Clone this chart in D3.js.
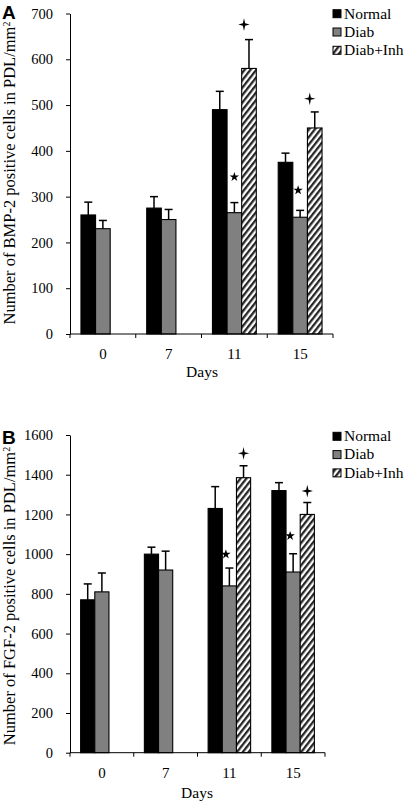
<!DOCTYPE html>
<html><head><meta charset="utf-8">
<script src="https://cdn.jsdelivr.net/npm/d3@7"></script>
<style>body{margin:0;background:#fff}svg{display:block}</style>
</head><body><svg id="c" width="408" height="804"></svg>
<script>
// ---------- data ----------
const days = ["0", "7", "11", "15"];
const seriesNames = ["Normal", "Diab", "Diab+Inh"];

// Panel A: BMP-2
const bmpNormal    = [260, 275, 490, 375];
const bmpNormalErr = [28, 25, 40, 20];
const bmpDiab      = [230, 250, 265, 255];
const bmpDiabErr   = [18, 22, 22, 15];
const bmpInh       = [null, null, 580, 450];
const bmpInhErr    = [null, null, 63, 35];
const bmpStar      = [null, null, 343, 314];
const bmpCross     = [null, null, 676, 514];
const bmpTicks     = [0, 100, 200, 300, 400, 500, 600, 700];

// Panel B: FGF-2
const fgfNormal    = [770, 1000, 1230, 1320];
const fgfNormalErr = [80, 35, 110, 40];
const fgfDiab      = [810, 920, 840, 910];
const fgfDiabErr   = [95, 95, 90, 92];
const fgfInh       = [null, null, 1385, 1200];
const fgfInhErr    = [null, null, 60, 60];
const fgfStar      = [null, null, 999, 1092];
const fgfCross     = [null, null, 1508, 1318];
const fgfTicks     = [0, 200, 400, 600, 800, 1000, 1200, 1400, 1600];

// ---------- drawing ----------
const svg = d3.select("#c");
const defs = svg.append("defs");
const pat = defs.append("pattern").attr("id", "hatch")
  .attr("patternUnits", "userSpaceOnUse").attr("width", 4.6).attr("height", 10)
  .attr("patternTransform", "rotate(38)");
pat.append("rect").attr("width", 4.6).attr("height", 10).attr("fill", "#fff");
pat.append("rect").attr("width", 2.3).attr("height", 10).attr("fill", "#262626");

const serif = "'Liberation Serif','Times New Roman',serif";
const fills = ["#000", "#808080", "url(#hatch)"];

const crossType = {
  draw(ctx, size) {
    const r = Math.sqrt(size) / 2;
    const w = r * 0.2;
    ctx.moveTo(0, -r * 1.1);
    ctx.lineTo(w, -w);
    ctx.lineTo(r, 0);
    ctx.lineTo(w, w);
    ctx.lineTo(0, r * 1.15);
    ctx.lineTo(-w, w);
    ctx.lineTo(-r, 0);
    ctx.lineTo(-w, -w);
    ctx.closePath();
  }
};

function panel(cfg) {
  const g = svg.append("g");
  const y = d3.scaleLinear().domain([0, cfg.yMax]).range([cfg.y0, cfg.y1]);
  const x0 = d3.scaleBand().domain(days).range([cfg.x0, cfg.x1])
    .paddingInner(1 / 3).paddingOuter(1 / 6);
  const x1 = d3.scaleBand().domain(seriesNames).range([0, x0.bandwidth()]);
  const step = x0.step();

  const vals = [cfg.normal, cfg.diab, cfg.inh];
  const errs = [cfg.normalErr, cfg.diabErr, cfg.inhErr];

  // bars
  seriesNames.forEach((s, si) => {
    const data = days.map((d, i) => ({ d, v: vals[si][i], e: errs[si][i] }))
      .filter(o => o.v != null);
    g.selectAll(null).data(data).enter().append("rect")
      .attr("x", o => x0(o.d) + x1(s))
      .attr("y", o => y(o.v))
      .attr("width", x1.bandwidth())
      .attr("height", o => y(0) - y(o.v))
      .attr("fill", fills[si])
      .attr("stroke", "#000").attr("stroke-width", 1.1);
    // error bars (upper only)
    const eg = g.selectAll(null).data(data).enter().append("g")
      .attr("stroke", "#000").attr("stroke-width", 1.5);
    eg.append("line")
      .attr("x1", o => x0(o.d) + x1(s) + x1.bandwidth() / 2)
      .attr("x2", o => x0(o.d) + x1(s) + x1.bandwidth() / 2)
      .attr("y1", o => y(o.v)).attr("y2", o => y(o.v + o.e));
    eg.append("line")
      .attr("x1", o => x0(o.d) + x1(s) + x1.bandwidth() / 2 - 4)
      .attr("x2", o => x0(o.d) + x1(s) + x1.bandwidth() / 2 + 4)
      .attr("y1", o => y(o.v + o.e)).attr("y2", o => y(o.v + o.e));
  });

  // significance markers
  const starData = days.map((d, i) => ({ d, v: cfg.star[i] })).filter(o => o.v != null);
  g.selectAll(null).data(starData).enter().append("path")
    .attr("d", d3.symbol().type(d3.symbolStar).size(28))
    .attr("transform", (o, i) => `translate(${x0(o.d) + x1("Diab") + x1.bandwidth() / 2 + cfg.starDx[i]},${y(o.v)})`)
    .attr("fill", "#000");
  const crossData = days.map((d, i) => ({ d, v: cfg.cross[i] })).filter(o => o.v != null);
  g.selectAll(null).data(crossData).enter().append("path")
    .attr("d", d3.symbol().type(crossType).size(130))
    .attr("transform", o => `translate(${x0(o.d) + x1("Diab+Inh") + x1.bandwidth() / 2 + cfg.crossDx},${y(o.v)})`)
    .attr("fill", "#000");

  // y axis
  const ya = g.append("g").attr("transform", `translate(${cfg.x0},0)`)
    .call(d3.axisLeft(y).tickValues(cfg.ticks).tickFormat(d3.format("d"))
      .tickSize(4).tickSizeOuter(0).tickPadding(13));
  ya.attr("font-family", serif).attr("font-size", 14.5);
  ya.selectAll("path,line").attr("stroke", "#000").attr("stroke-width", 1);
  ya.selectAll("text").attr("font-family", serif).attr("font-size", 14.5).attr("fill", "#000");

  // x axis
  g.append("line").attr("x1", cfg.x0).attr("x2", cfg.x1)
    .attr("y1", cfg.y0).attr("y2", cfg.y0).attr("stroke", "#000");
  const bounds = d3.range(days.length + 1).map(i => cfg.x0 + i * step);
  g.selectAll(null).data(bounds).enter().append("line")
    .attr("x1", b => b).attr("x2", b => b)
    .attr("y1", cfg.y0).attr("y2", cfg.y0 + 4).attr("stroke", "#000");
  g.selectAll(null).data(days).enter().append("text")
    .attr("x", d => x0(d) + x0.bandwidth() / 2)
    .attr("y", cfg.y0 + 25)
    .attr("text-anchor", "middle").attr("font-family", serif).attr("font-size", 15)
    .text(d => d);
  g.append("text").attr("x", cfg.daysX).attr("y", cfg.daysY)
    .attr("text-anchor", "middle").attr("font-family", serif).attr("font-size", 15.5)
    .text("Days");

  // y label
  const yl = g.append("text")
    .attr("transform", `translate(${cfg.labelX},${cfg.labelY}) rotate(-90)`)
    .attr("text-anchor", "middle").attr("font-family", serif).attr("font-size", 16.5);
  yl.append("tspan").text(cfg.yLabel + " in PDL/mm");
  yl.append("tspan").attr("baseline-shift", "super").attr("font-size", 10).text("2");

  // panel letter
  g.append("text").attr("x", 2).attr("y", cfg.letterY)
    .attr("font-family", "'Liberation Sans',Arial,sans-serif").attr("font-weight", "bold")
    .attr("font-size", 19).text(cfg.letter);

  // legend
  seriesNames.forEach((s, i) => {
    const cy = cfg.legY + i * 18.3;
    g.append("rect").attr("x", 333).attr("y", cy - 4).attr("width", 8).attr("height", 8)
      .attr("fill", fills[i]).attr("stroke", "#000").attr("stroke-width", 1);
    g.append("text").attr("x", 344).attr("y", cy + 4.8)
      .attr("font-family", serif).attr("font-size", 15.5).text(s);
  });
}

panel({
  letter: "A", letterY: 19,
  yMax: 700, y0: 334, y1: 13.5, x0: 70, x1: 333,
  ticks: bmpTicks,
  normal: bmpNormal, normalErr: bmpNormalErr,
  diab: bmpDiab, diabErr: bmpDiabErr,
  inh: bmpInh, inhErr: bmpInhErr,
  star: bmpStar, cross: bmpCross, starDx: [0, -2], crossDx: -5,
  yLabel: "Number of BMP-2 positive cells", labelX: 15, labelY: 173,
  daysX: 202, daysY: 377, legY: 13.7
});
panel({
  letter: "B", letterY: 444,
  yMax: 1600, y0: 752.7, y1: 435, x0: 70, x1: 325,
  ticks: fgfTicks,
  normal: fgfNormal, normalErr: fgfNormalErr,
  diab: fgfDiab, diabErr: fgfDiabErr,
  inh: fgfInh, inhErr: fgfInhErr,
  star: fgfStar, cross: fgfCross, starDx: [-3.5, -3], crossDx: 0,
  yLabel: "Number of FGF-2 positive cells", labelX: 15, labelY: 596,
  daysX: 197, daysY: 798, legY: 436.3
});
</script>
</body></html>
